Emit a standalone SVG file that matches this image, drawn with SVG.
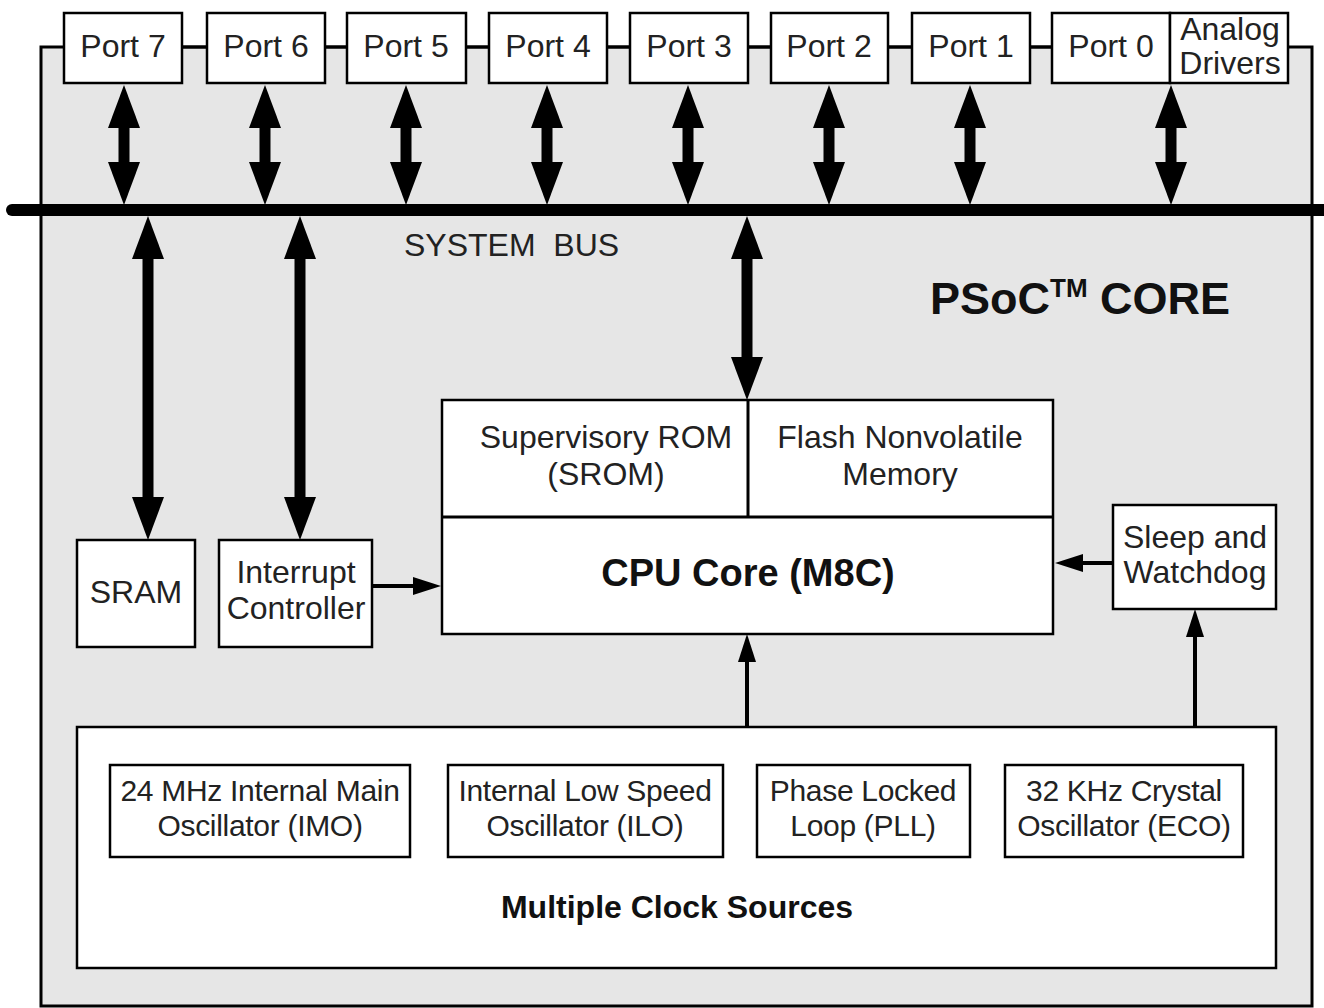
<svg xmlns="http://www.w3.org/2000/svg" width="1324" height="1008" viewBox="0 0 1324 1008">
<style>
.box{fill:#fff;stroke:#000;stroke-width:2.5}
.t{font-family:"Liberation Sans",Arial,sans-serif;font-size:32px;fill:#222;text-anchor:middle}
.tc{font-family:"Liberation Sans",Arial,sans-serif;font-size:30px;letter-spacing:-0.3px;fill:#222;text-anchor:middle}
.b{font-family:"Liberation Sans",Arial,sans-serif;font-weight:bold;fill:#111}
.big{stroke:#000;stroke-width:11;fill:none}
.thin{stroke:#000;stroke-width:4;fill:none}
.ln{stroke:#000;stroke-width:3;fill:none}
</style>
<defs>
<marker id="ah" markerUnits="userSpaceOnUse" markerWidth="46" markerHeight="34" refX="0" refY="16" orient="auto-start-reverse" overflow="visible">
<path d="M0,0 L43,16 L0,32 Z" fill="#000"/>
</marker>
<marker id="sh" markerUnits="userSpaceOnUse" markerWidth="30" markerHeight="20" refX="0" refY="9" orient="auto" overflow="visible">
<path d="M0,0 L28,9 L0,18 Z" fill="#000"/>
</marker>
</defs>
<rect width="1324" height="1008" fill="#fff"/>
<g id="frame">
<rect x="41" y="47" width="1271" height="959" fill="#e6e6e6" stroke="#000" stroke-width="3"/>
</g>
<g id="connectors">
<path d="M12,210 H1330" stroke="#000" stroke-width="12" stroke-linecap="round"/>
<path class="big" d="M124,128 V162" marker-start="url(#ah)" marker-end="url(#ah)"/>
<path class="big" d="M265,128 V162" marker-start="url(#ah)" marker-end="url(#ah)"/>
<path class="big" d="M406,128 V162" marker-start="url(#ah)" marker-end="url(#ah)"/>
<path class="big" d="M547,128 V162" marker-start="url(#ah)" marker-end="url(#ah)"/>
<path class="big" d="M688,128 V162" marker-start="url(#ah)" marker-end="url(#ah)"/>
<path class="big" d="M829,128 V162" marker-start="url(#ah)" marker-end="url(#ah)"/>
<path class="big" d="M970,128 V162" marker-start="url(#ah)" marker-end="url(#ah)"/>
<path class="big" d="M1171,128 V162" marker-start="url(#ah)" marker-end="url(#ah)"/>
<path class="big" d="M148,259 V497" marker-start="url(#ah)" marker-end="url(#ah)"/>
<path class="big" d="M300,259 V497" marker-start="url(#ah)" marker-end="url(#ah)"/>
<path class="big" d="M747,259 V357" marker-start="url(#ah)" marker-end="url(#ah)"/>
<path class="thin" d="M372,586 H413" marker-end="url(#sh)"/>
<path class="thin" d="M1113,563 H1083" marker-end="url(#sh)"/>
<path class="thin" d="M747,727 V662" marker-end="url(#sh)"/>
<path class="thin" d="M1195,727 V637" marker-end="url(#sh)"/>
</g>
<g id="ports">
<path class="ln" d="M182,47 H207 M325,47 H347 M466,47 H489 M607,47 H630 M748,47 H771 M889,47 H912 M1030,47 H1052"/>
<g id="port7"><rect class="box" x="64" y="13" width="118" height="70"/><text class="t" x="123" y="57">Port 7</text></g>
<g id="port6"><rect class="box" x="207" y="13" width="118" height="70"/><text class="t" x="266" y="57">Port 6</text></g>
<g id="port5"><rect class="box" x="347" y="13" width="119" height="70"/><text class="t" x="406" y="57">Port 5</text></g>
<g id="port4"><rect class="box" x="489" y="13" width="118" height="70"/><text class="t" x="548" y="57">Port 4</text></g>
<g id="port3"><rect class="box" x="630" y="13" width="118" height="70"/><text class="t" x="689" y="57">Port 3</text></g>
<g id="port2"><rect class="box" x="771" y="13" width="117" height="70"/><text class="t" x="829" y="57">Port 2</text></g>
<g id="port1"><rect class="box" x="912" y="13" width="118" height="70"/><text class="t" x="971" y="57">Port 1</text></g>
<g id="port0"><rect class="box" x="1052" y="13" width="118" height="70"/><text class="t" x="1111" y="57">Port 0</text></g>
<g id="analog"><rect class="box" x="1170" y="13" width="118" height="70"/><text class="t" x="1230" y="40" font-size="27">Analog</text><text class="t" x="1230" y="74" font-size="27">Drivers</text></g>
</g>
<text x="404" y="256" font-family="Liberation Sans, Arial, sans-serif" font-size="32" fill="#222" xml:space="preserve">SYSTEM  BUS</text>
<text class="b" x="930" y="314" font-size="45">PSoC<tspan font-size="26" dy="-17">TM</tspan><tspan dy="17"> CORE</tspan></text>
<g id="cpu">
<rect class="box" x="442" y="400" width="611" height="234"/>
<path class="ln" d="M442,517 H1053 M748,400 V517" stroke-width="2.5"/>
<text class="t" x="606" y="448">Supervisory ROM</text>
<text class="t" x="606" y="485">(SROM)</text>
<text class="t" x="900" y="448">Flash Nonvolatile</text>
<text class="t" x="900" y="485">Memory</text>
<text class="b" x="748" y="586" font-size="38" text-anchor="middle">CPU Core (M8C)</text>
</g>
<g id="sram"><rect class="box" x="77" y="540" width="118" height="107"/><text class="t" x="136" y="603">SRAM</text></g>
<g id="interrupt"><rect class="box" x="219" y="540" width="153" height="107"/><text class="t" x="296" y="583">Interrupt</text><text class="t" x="296" y="619">Controller</text></g>
<g id="sleep"><rect class="box" x="1113" y="505" width="163" height="104"/><text class="t" x="1195" y="548">Sleep and</text><text class="t" x="1195" y="583">Watchdog</text></g>
<g id="clocks">
<rect class="box" x="77" y="727" width="1199" height="241"/>
<text class="b" x="677" y="918" font-size="32" text-anchor="middle">Multiple Clock Sources</text>
<g id="imo"><rect class="box" x="110" y="765" width="300" height="92"/><text class="tc" x="260" y="801">24 MHz Internal Main</text><text class="tc" x="260" y="836">Oscillator (IMO)</text></g>
<g id="ilo"><rect class="box" x="448" y="765" width="275" height="92"/><text class="tc" x="585" y="801">Internal Low Speed</text><text class="tc" x="585" y="836">Oscillator (ILO)</text></g>
<g id="pll"><rect class="box" x="757" y="765" width="213" height="92"/><text class="tc" x="863" y="801">Phase Locked</text><text class="tc" x="863" y="836">Loop (PLL)</text></g>
<g id="eco"><rect class="box" x="1005" y="765" width="238" height="92"/><text class="tc" x="1124" y="801">32 KHz Crystal</text><text class="tc" x="1124" y="836">Oscillator (ECO)</text></g>
</g>
</svg>
